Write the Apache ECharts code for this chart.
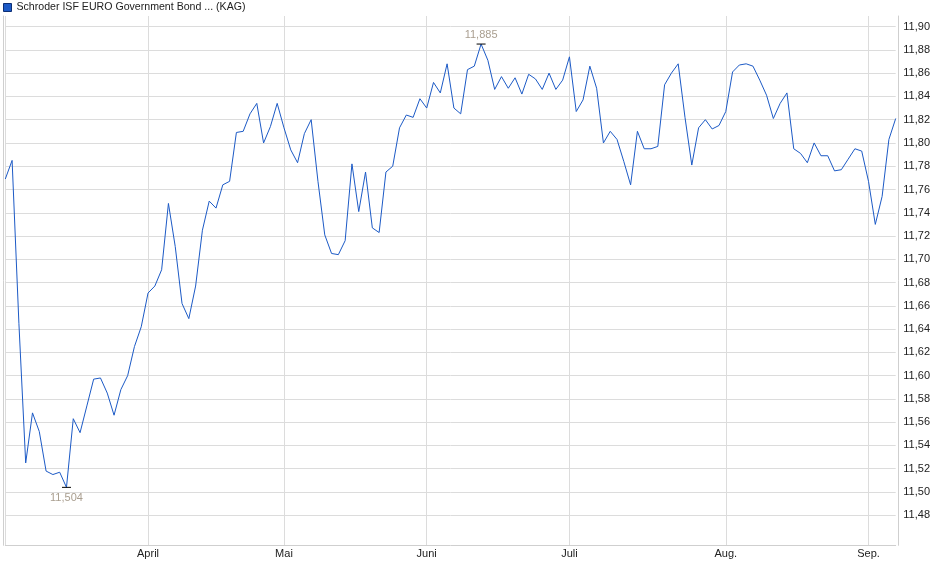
<!DOCTYPE html>
<html>
<head>
<meta charset="utf-8">
<script src="https://cdn.jsdelivr.net/npm/echarts@6/dist/echarts.min.js"></script>
<style>
  html, body { margin: 0; padding: 0; background: #fff; }
  #chart { width: 940px; height: 579px; }
</style>
</head>
<body>
<div id="chart"></div>
<script>
var seriesName = 'Schroder ISF EURO Government Bond ... (KAG)';
var firstDay = '2025-03-03';
var lastDay = '2025-09-05';
var holidays = ['2025-04-18', '2025-04-21', '2025-05-01'];
var monthNames = ['Jan.', 'Feb.', 'März', 'April', 'Mai', 'Juni', 'Juli', 'Aug.', 'Sep.', 'Okt.', 'Nov.', 'Dez.'];

// Anteilspreis je Handelstag
var prices = [
  11.769, 11.785, 11.645, 11.525, 11.568, 11.552, 11.518, 11.515, 11.517, 11.504,
  11.563, 11.551, 11.574, 11.597, 11.598, 11.585, 11.566, 11.588, 11.600, 11.625,
  11.642, 11.671, 11.677, 11.691, 11.748, 11.711, 11.662, 11.649, 11.677, 11.725,
  11.750, 11.744, 11.764, 11.767, 11.809, 11.810, 11.825, 11.834, 11.800, 11.814,
  11.834, 11.813, 11.794, 11.783, 11.808, 11.820, 11.767, 11.721, 11.705, 11.704,
  11.716, 11.782, 11.741, 11.775, 11.727, 11.723, 11.775, 11.780, 11.813, 11.824,
  11.822, 11.838, 11.830, 11.852, 11.843, 11.868, 11.830, 11.825, 11.863, 11.866,
  11.885, 11.871, 11.846, 11.857, 11.847, 11.856, 11.842, 11.859, 11.855, 11.846,
  11.860, 11.846, 11.854, 11.874, 11.827, 11.837, 11.866, 11.847, 11.800, 11.810,
  11.803, 11.784, 11.764, 11.810, 11.795, 11.795, 11.797, 11.850, 11.860, 11.868,
  11.822, 11.781, 11.813, 11.820, 11.812, 11.815, 11.827, 11.861, 11.867, 11.868,
  11.866, 11.854, 11.841, 11.821, 11.834, 11.843, 11.795, 11.791, 11.783, 11.800,
  11.789, 11.789, 11.776, 11.777, 11.786, 11.795, 11.793, 11.767, 11.730, 11.754,
  11.803, 11.821
];

var yTicks = [
  11.48, 11.50, 11.52, 11.54, 11.56, 11.58, 11.60, 11.62, 11.64, 11.66, 11.68,
  11.70, 11.72, 11.74, 11.76, 11.78, 11.80, 11.82, 11.84, 11.86, 11.88, 11.90
];
var yMin = 11.4542;
var yMax = 11.9091;

var font = "'Liberation Sans', Arial, sans-serif";
var lineColor = '#1c5ac6';
var gridColor = '#dcdcdc';

function tradingDays(from, to, skip) {
  var out = [];
  var d = new Date(from + 'T00:00:00Z');
  var end = new Date(to + 'T00:00:00Z');
  while (d <= end) {
    var s = d.toISOString().slice(0, 10);
    var wd = d.getUTCDay();
    if (wd !== 0 && wd !== 6 && skip.indexOf(s) < 0) out.push(s);
    d.setUTCDate(d.getUTCDate() + 1);
  }
  return out;
}

var dates = tradingDays(firstDay, lastDay, holidays);

function isMonthStart(i) {
  return i === 0 || dates[i].slice(5, 7) !== dates[i - 1].slice(5, 7);
}

function comma(v, digits) {
  return v.toFixed(digits).replace('.', ',');
}

var chart = echarts.init(document.getElementById('chart'));

chart.setOption({
  animation: false,
  backgroundColor: '#fff',
  legend: {
    left: 0,
    top: 0,
    padding: [2, 0, 0, 3],
    icon: 'rect',
    itemWidth: 8,
    itemHeight: 8,
    itemGap: 4,
    textStyle: { fontFamily: font, fontSize: 10.6, color: '#222' },
    data: [{
      name: seriesName,
      itemStyle: { color: lineColor, borderColor: '#0d2f75', borderWidth: 1 }
    }]
  },
  grid: {
    left: 5.3,
    right: 44.3,
    top: 16,
    bottom: 33.7,
    containLabel: false
  },
  xAxis: {
    type: 'category',
    data: dates,
    boundaryGap: false,
    axisLine: { show: true, lineStyle: { color: '#cfcfcf' } },
    axisTick: { show: false },
    axisLabel: {
      interval: function (i) { return i > 0 && isMonthStart(i); },
      formatter: function (v) { return monthNames[+v.slice(5, 7) - 1]; },
      margin: 3,
      fontFamily: font,
      fontSize: 11,
      color: '#222'
    },
    splitLine: {
      show: true,
      interval: function (i) { return isMonthStart(i); },
      lineStyle: { color: gridColor }
    }
  },
  yAxis: [{
    type: 'value',
    position: 'right',
    offset: 2.6,
    min: yMin,
    max: yMax,
    axisLine: { show: true, lineStyle: { color: '#cfcfcf' } },
    axisTick: { show: false, customValues: yTicks },
    axisLabel: {
      customValues: yTicks,
      margin: 5,
      fontFamily: font,
      fontSize: 11,
      color: '#222',
      formatter: function (v) { return comma(v, 2); }
    },
    splitLine: {
      show: true,
      lineStyle: { color: gridColor }
    }
  }, {
    type: 'value',
    position: 'left',
    offset: 2.3,
    min: yMin,
    max: yMax,
    axisLine: { show: true, lineStyle: { color: '#cfcfcf' } },
    axisTick: { show: false },
    axisLabel: { show: false },
    splitLine: { show: false }
  }],
  series: [{
    name: seriesName,
    type: 'line',
    data: prices,
    yAxisIndex: 0,
    symbol: 'none',
    lineStyle: { color: lineColor, width: 1 },
    itemStyle: { color: lineColor },
    markPoint: {
      silent: true,
      symbol: 'rect',
      symbolSize: [9, 1],
      itemStyle: { color: '#000' },
      label: {
        fontFamily: font,
        fontSize: 11,
        color: '#a99e8f',
        formatter: function (p) { return comma(p.value, 3); }
      },
      data: [
        { type: 'min', label: { position: 'bottom', distance: 5 } },
        { type: 'max', label: { position: 'top', distance: 3 } }
      ]
    }
  }]
});
</script>
</body>
</html>
